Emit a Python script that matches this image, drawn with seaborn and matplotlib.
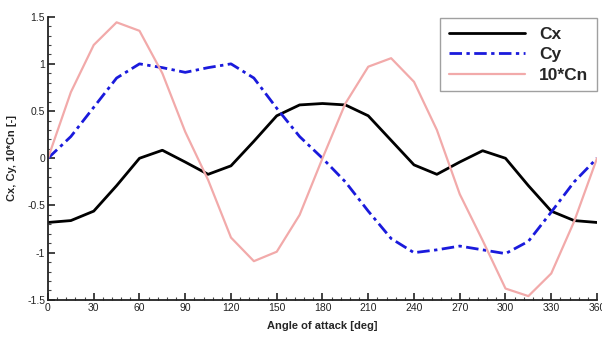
import numpy as np
import pandas as pd
import matplotlib
matplotlib.use("Agg")
import matplotlib.pyplot as plt
from matplotlib.ticker import MultipleLocator
import seaborn as sns

# Aerodynamic coefficients versus angle of attack (15 deg steps)
angle = [0, 15, 30, 45, 60, 75, 90, 105, 120, 135, 150, 165, 180,
         195, 210, 225, 240, 255, 270, 285, 300, 315, 330, 345, 360]
cx = [-0.68, -0.66, -0.56, -0.29, 0.0, 0.085, -0.04, -0.17, -0.08, 0.18, 0.45, 0.565, 0.58,
      0.565, 0.45, 0.19, -0.07, -0.17, -0.04, 0.08, 0.0, -0.29, -0.56, -0.66, -0.68]
cy = [0.0, 0.23, 0.54, 0.85, 1.0, 0.96, 0.91, 0.96, 1.0, 0.85, 0.53, 0.23, 0.0,
      -0.25, -0.56, -0.85, -1.0, -0.97, -0.93, -0.97, -1.01, -0.88, -0.57, -0.25, 0.0]
cn10 = [0.0, 0.70, 1.20, 1.44, 1.35, 0.90, 0.28, -0.23, -0.84, -1.09, -0.99, -0.60, 0.0,
        0.58, 0.97, 1.06, 0.81, 0.30, -0.38, -0.87, -1.38, -1.46, -1.22, -0.67, 0.0]

series_names = ["Cx", "Cy", "10*Cn"]

df = pd.DataFrame({"angle": angle, "Cx": cx, "Cy": cy, "10*Cn": cn10})

sns.set_style("ticks")
plt.rcParams["font.family"] = ["Liberation Sans", "DejaVu Sans"]

fig = plt.figure(figsize=(6.02, 3.40), dpi=100)
ax = fig.add_axes([0.0797, 0.118, 0.912, 0.833])

sns.lineplot(data=df, x="angle", y="Cx", ax=ax, color="black", lw=2.0, label="Cx")
sns.lineplot(data=df, x="angle", y="Cy", ax=ax, color="#1a1adc", lw=2.0,
             linestyle=(0, (4.5, 1.6, 1.2, 1.6)), label="Cy")
sns.lineplot(data=df, x="angle", y="10*Cn", ax=ax, color="#f2aaaa", lw=1.6, label="10*Cn")

ax.set_xlim(0, 360)
ax.set_ylim(-1.5, 1.5)
ax.xaxis.set_major_locator(MultipleLocator(30))
ax.xaxis.set_minor_locator(MultipleLocator(6))
ax.yaxis.set_major_locator(MultipleLocator(0.5))
ax.yaxis.set_minor_locator(MultipleLocator(0.1))
ax.set_xticks(np.arange(0, 361, 30))
ax.set_xticklabels([str(v) for v in range(0, 361, 30)])
ax.set_yticks([-1.5, -1, -0.5, 0, 0.5, 1, 1.5])
ax.set_yticklabels(["-1.5", "-1", "-0.5", "0", "0.5", "1", "1.5"])

ax.tick_params(which="major", direction="in", length=5, width=1.2, labelsize=7.5,
               colors="#222222", pad=2)
ax.tick_params(which="minor", direction="in", length=2.5, width=0.8, colors="#444444")
for side in ("top", "right"):
    ax.spines[side].set_visible(False)
for side in ("left", "bottom"):
    ax.spines[side].set_linewidth(1.3)
    ax.spines[side].set_color("#222222")

ax.set_xlabel("Angle of attack [deg]", fontsize=8, fontweight="bold", labelpad=6)
ax.set_ylabel("Cx, Cy, 10*Cn [-]", fontsize=8, fontweight="bold", labelpad=7)

leg = ax.legend(loc="upper right", bbox_to_anchor=(1.0, 0.995), frameon=True, fancybox=False,
                prop={"size": 12.5, "weight": "bold"}, handlelength=4.4,
                labelspacing=0.3, borderpad=0.5, handletextpad=0.8, borderaxespad=0.0)
leg.get_frame().set_edgecolor("#888888")
leg.get_frame().set_linewidth(1.0)

fig.savefig("out.png", dpi=100)
